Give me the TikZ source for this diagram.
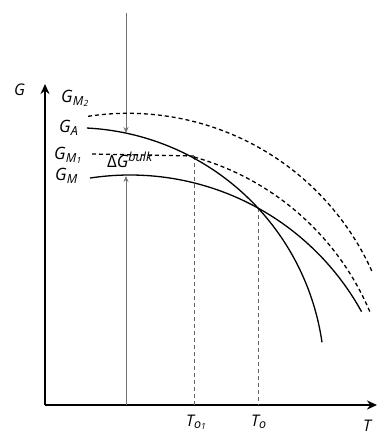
\documentclass[tikz,border=0pt]{standalone}
\usepackage{fontspec}
\setmainfont{Open Sans}
\usetikzlibrary{arrows.meta}
\newcommand{\lsub}[1]{\raisebox{-2.5pt}{\fontsize{12.5}{12.5}\selectfont\itshape #1}}
\newcommand{\lsup}[1]{\raisebox{6pt}{\fontsize{12.5}{12.5}\selectfont\itshape #1}}
\newcommand{\tinyidx}[1]{\raisebox{-1pt}{\fontsize{8.5}{8.5}\selectfont #1}}
\tikzset{
  axisline/.style={line width=1.8pt,-{Stealth[length=10pt,width=9pt]}},
  curve/.style={line width=1.3pt},
  dcurve/.style={line width=1.3pt,dash pattern=on 4pt off 3pt},
  guide/.style={line width=0.8pt,black!55},
  dguide/.style={line width=0.8pt,black!60,dash pattern=on 4pt off 3pt},
  lbl/.style={anchor=base west,inner sep=0pt,font=\fontsize{17}{17}\selectfont\itshape},
  albl/.style={anchor=base west,inner sep=0pt,font=\fontsize{16}{16}\selectfont\itshape},
}
\begin{document}
\begin{tikzpicture}[x=1pt,y=-1pt]
\useasboundingbox (0,0) rectangle (377,435);
% axes
\coordinate (O) at (45,405);
\coordinate (Ytop) at (45,84);
\coordinate (Xend) at (377,405);
\draw[axisline] (O) -- (Ytop);
\draw[axisline] (O) -- (Xend);
% guide lines
\coordinate (Vtop) at (126,13);
\coordinate (Vga) at (126,133);
\coordinate (Vbot) at (126,405);
\coordinate (Vgm) at (126,176);
\draw[guide,-{Stealth[length=6pt,width=5pt]}] (Vtop) -- (Vga);
\draw[guide,-{Stealth[length=6pt,width=5pt]}] (Vbot) -- (Vgm);
\coordinate (T1top) at (194,156);
\coordinate (T1bot) at (194,405);
\coordinate (T0top) at (258,208);
\coordinate (T0bot) at (258,405);
\draw[dguide] (T1top) -- (T1bot);
\draw[dguide] (T0top) -- (T0bot);
% curves (circular arcs)
% G_M2
\draw[dcurve] plot[domain=98.6:24.1,samples=80] ({128+267.3*cos(\x)},{380.6-267.3*sin(\x)});
% G_M1
\coordinate (M1a) at (92,154);
\draw[dcurve] (M1a) -- (T1top);
\draw[dcurve] plot[domain=74.4:22.8,samples=80] ({121.6+269.5*cos(\x)},{416.6-269.5*sin(\x)});
% G_A
\draw[curve] plot[domain=87.1:8.2,samples=100] ({74.25+250.3*cos(\x)},{378-250.3*sin(\x)});
% G_M
\draw[curve] plot[domain=98.7:28.9,samples=100] ({130+264.5*cos(\x)},{439.5-264.5*sin(\x)});
% labels
\node[albl] (G) at (14,96) {G};
\node[albl] (T) at (363,431) {T};
\node[lbl] (GM2) at (61,103) {G\lsub{M\kern0.3pt\tinyidx{2}}};
\node[lbl] (GA) at (59,133) {G\lsub{A}};
\node[lbl] (GM1) at (54,160) {G\lsub{M\kern0.3pt\tinyidx{1}}};
\node[lbl] (GM) at (55,181) {G\lsub{M}};
\node[lbl] (dG) at (107,168) {{\upshape\char"0394}G\lsup{bulk}};
\node[albl] (To1) at (186,426) {T\lsub{o\tinyidx{1}}};
\node[albl] (To) at (251,426) {T\lsub{o}};
\end{tikzpicture}
\end{document}
